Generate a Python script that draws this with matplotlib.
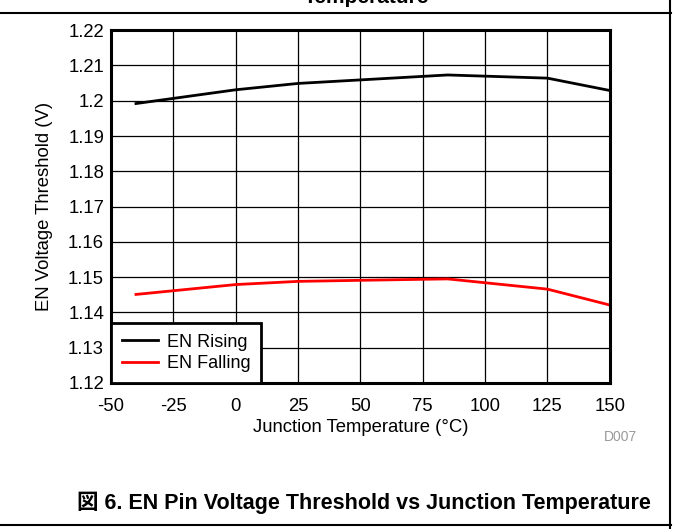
import matplotlib.pyplot as plt
from matplotlib.lines import Line2D

plt.rcParams['font.family'] = ['Liberation Sans', 'Noto Sans CJK JP', 'DejaVu Sans']
plt.rcParams['axes.unicode_minus'] = False

# data
temp = [-40, 0, 25, 50, 85, 125, 150]
en_rising = [1.1992, 1.2031, 1.2049, 1.2059, 1.2073, 1.2064, 1.2029]
en_falling = [1.1451, 1.1479, 1.1488, 1.1491, 1.1495, 1.1466, 1.1421]
xticks = [-50, -25, 0, 25, 50, 75, 100, 125, 150]
yticks = [1.12, 1.13, 1.14, 1.15, 1.16, 1.17, 1.18, 1.19, 1.20, 1.21, 1.22]
ytick_labels = ['1.12', '1.13', '1.14', '1.15', '1.16', '1.17', '1.18', '1.19', '1.2', '1.21', '1.22']

fig = plt.figure(figsize=(6.73, 5.29), dpi=100)
ax = fig.add_axes([0.165, 0.276, 0.741, 0.667])

ax.plot(temp, en_rising, color='black', lw=2, label='EN Rising')
ax.plot(temp, en_falling, color='red', lw=2, label='EN Falling')

ax.set_xlim(-50, 150)
ax.set_ylim(1.12, 1.22)
ax.set_xticks(xticks)
ax.set_yticks(yticks)
ax.set_yticklabels(ytick_labels)
ax.tick_params(length=0, labelsize=13.3, pad=5)
ax.tick_params(axis='x', pad=11)
ax.grid(True, color='black', lw=0.9)
for s in ax.spines.values():
    s.set_linewidth(2.2)

ax.set_xlabel('Junction Temperature (°C)', fontsize=13.3, labelpad=3)
ax.set_ylabel('EN Voltage Threshold (V)', fontsize=13.3, labelpad=11)

leg = ax.legend(loc='lower left', bbox_to_anchor=(0, 0), borderaxespad=0,
                fancybox=False, framealpha=1, edgecolor='black', fontsize=13,
                handlelength=2.0, handletextpad=0.5, borderpad=0.6, labelspacing=0.25)
leg.get_frame().set_linewidth(2)

fig.text(0.947, 1 - 437 / 529, 'D007', color='#999999', fontsize=10, ha='right', va='center')

# partial title cut off at the top and the caption frame
fig.text(0.545, 1 - 3 / 529, 'Temperature', fontsize=15, fontweight='bold',
         ha='center', va='baseline')
fig.text(0.114, 1 - 503 / 529, '図 6. EN Pin Voltage Threshold vs Junction Temperature',
         fontsize=15.5, fontweight='bold', ha='left', va='center')

for y in [1 - 13 / 529, 1 - 525 / 529]:
    fig.add_artist(Line2D([0, 0.997], [y, y], color='black', lw=1.5, transform=fig.transFigure))
fig.add_artist(Line2D([0.996, 0.996], [0, 1], color='black', lw=1.5, transform=fig.transFigure))

fig.savefig('out.png', dpi=100)
